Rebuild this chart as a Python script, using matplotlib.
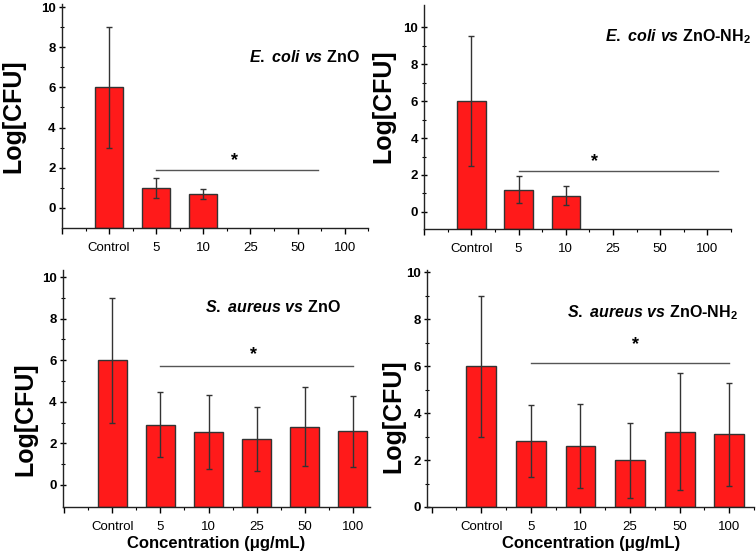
import matplotlib.pyplot as plt
import numpy as np

plt.rcParams['font.family'] = 'Liberation Sans'
plt.rcParams['mathtext.fontset'] = 'custom'
plt.rcParams['mathtext.it'] = 'Liberation Sans:italic:bold'
plt.rcParams['mathtext.bf'] = 'Liberation Sans:bold'
plt.rcParams['mathtext.rm'] = 'Liberation Sans:bold'

categories = ['Control', '5', '10', '25', '50', '100']

# E. coli vs ZnO
ecoli_zno = [6.0, 1.0, 0.7]
ecoli_zno_lo = [3.0, 0.5, 0.45]
ecoli_zno_hi = [9.0, 1.5, 0.92]

# E. coli vs ZnO-NH2
ecoli_nh2 = [6.0, 1.2, 0.87]
ecoli_nh2_lo = [2.5, 0.5, 0.38]
ecoli_nh2_hi = [9.5, 1.93, 1.38]

# S. aureus vs ZnO
saureus_zno = [6.0, 2.9, 2.55, 2.2, 2.8, 2.6]
saureus_zno_lo = [3.0, 1.35, 0.75, 0.65, 0.9, 0.85]
saureus_zno_hi = [9.0, 4.45, 4.35, 3.75, 4.7, 4.28]

# S. aureus vs ZnO-NH2
saureus_nh2 = [6.0, 2.83, 2.58, 2.0, 3.2, 3.12]
saureus_nh2_lo = [3.0, 1.27, 0.8, 0.4, 0.72, 0.9]
saureus_nh2_hi = [9.0, 4.35, 4.4, 3.6, 5.7, 5.3]

fig = plt.figure(figsize=(7.56, 5.57), dpi=100)


def panel(rect, means, lo, hi, xlim, ylim, title, tpos, sig, star, labpos, xlab=False):
    ax = fig.add_axes(rect)
    means = np.array(means)
    x = np.arange(len(means))
    base = ylim[0]
    ax.bar(x, means - base, bottom=base, width=0.6, color='#ff1a1a',
           edgecolor='#333333', linewidth=1, zorder=2)
    err = [means - np.array(lo), np.array(hi) - means]
    ax.errorbar(x, means, yerr=err, fmt='none', ecolor='#333333',
                elinewidth=1, capsize=2.5, capthick=1, zorder=3)

    # linia istotnosci + gwiazdka
    ax.plot([1, sig[0]], [sig[1], sig[1]], color='#555555', lw=1)
    ax.text(star[0], star[1], '*', ha='center', va='center', fontsize=13,
            fontweight='bold')

    ax.set_xlim(*xlim)
    ax.set_ylim(*ylim)
    ax.set_xticks(range(-1, 6), [''] + categories)
    ax.set_xticks(np.arange(-0.5, xlim[1] + 0.01, 0.5), minor=True)
    ax.set_yticks(range(0, 11, 2))
    ax.set_yticks(range(1, 11, 2), minor=True)
    for lab in ax.get_yticklabels():
        lab.set_fontweight('bold')
    ax.tick_params(axis='y', which='major', direction='inout', length=5,
                   width=1, labelsize=9.5, pad=2)
    ax.tick_params(axis='y', which='minor', direction='inout', length=2.5, width=0.8)
    ax.tick_params(axis='x', which='major', direction='out', length=4,
                   width=1, labelsize=9.5, pad=6)
    ax.tick_params(axis='x', which='minor', direction='out', length=2, width=0.8)
    for s in ['top', 'right']:
        ax.spines[s].set_visible(False)
    for s in ['left', 'bottom']:
        ax.spines[s].set_linewidth(1)
        ax.spines[s].set_color('#222222')

    ax.set_ylabel('Log[CFU]', fontsize=18, fontweight='bold')
    ax.yaxis.set_label_coords(labpos[0], labpos[1])
    if xlab:
        ax.set_xlabel('Concentration (μg/mL)', fontsize=12, fontweight='bold',
                      labelpad=2)

    ax.text(tpos[0], tpos[1], title, transform=ax.transAxes, ha='right',
            va='center', fontsize=11.5)
    return ax


panel([0.082, 0.5907, 0.405, 0.402], ecoli_zno, ecoli_zno_lo, ecoli_zno_hi,
      (-1, 5.5), (-1, 10.15), r'$\mathit{E.\ coli\ vs}\ \text{ZnO}$',
      (0.974, 0.763), (4.43, 1.9), (2.66, 2.35), (-0.12, 0.5))

panel([0.561, 0.589, 0.406, 0.402], ecoli_nh2, ecoli_nh2_lo, ecoli_nh2_hi,
      (-1, 5.5), (-0.92, 11.2), r'$\mathit{E.\ coli\ vs}\ \text{ZnO-NH}_2$',
      (1.065, 0.857), (5.23, 2.2), (2.6, 2.75), (-0.094, 0.55))

panel([0.083, 0.0898, 0.406, 0.4255], saureus_zno, saureus_zno_lo, saureus_zno_hi,
      (-1.03, 5.35), (-1.06, 10.34), r'$\mathit{S.\ aureus\ vs}\ \text{ZnO}$',
      (0.906, 0.844), (5.0, 5.7), (2.93, 6.25), (-0.084, 0.37), xlab=True)

panel([0.565, 0.0898, 0.4325, 0.4255], saureus_nh2, saureus_nh2_lo, saureus_nh2_hi,
      (-1.09, 5.5), (0, 10.1), r'$\mathit{S.\ aureus\ vs}\ \text{ZnO-NH}_2$',
      (0.951, 0.819), (5.0, 6.15), (3.1, 6.9), (-0.067, 0.384), xlab=True)

plt.savefig('out.png', dpi=100)
